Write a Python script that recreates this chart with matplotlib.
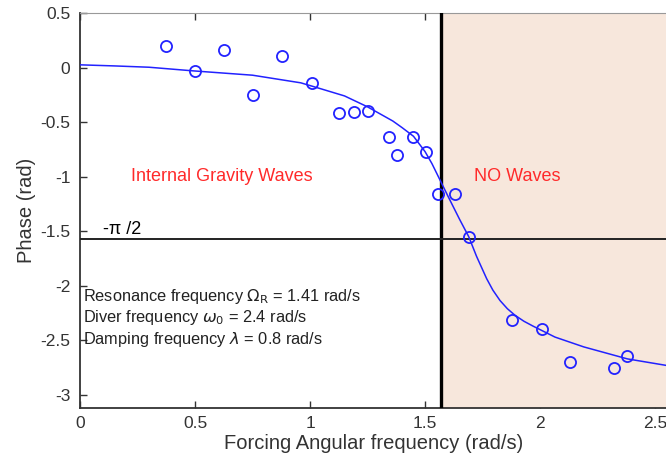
#! /usr/bin/env python3

import numpy as np
import matplotlib
matplotlib.use("Agg")
import matplotlib.pyplot as plt

plt.rcParams['font.family'] = ['Liberation Sans', 'DejaVu Sans']

# measured phase points
omega_pts = [0.374, 0.50, 0.626, 0.751, 0.88, 1.008, 1.126, 1.19, 1.254, 1.344, 1.38,
             1.446, 1.504, 1.557, 1.632, 1.69, 1.88, 2.01, 2.13, 2.32, 2.38, 2.58]
phase_pts = [0.20, -0.035, 0.165, -0.25, 0.104, -0.145, -0.42, -0.41, -0.40, -0.64, -0.80,
             -0.64, -0.77, -1.155, -1.16, -1.55, -2.31, -2.40, -2.70, -2.75, -2.64, -2.83]

# fitted curve
omega_fit = [0.0, 0.15, 0.30, 0.49, 0.75, 0.96, 1.04, 1.15, 1.25, 1.36, 1.40, 1.45, 1.50,
             1.53, 1.565, 1.60, 1.65, 1.69, 1.724, 1.768, 1.795, 1.826, 1.858, 1.891, 1.93,
             1.97, 2.065, 2.19, 2.38, 2.55]
phase_fit = [0.025, 0.015, 0.003, -0.03, -0.07, -0.14, -0.19, -0.26, -0.36, -0.49, -0.55,
             -0.63, -0.77, -0.88, -1.03, -1.18, -1.39, -1.55, -1.73, -1.935, -2.04, -2.135,
             -2.21, -2.27, -2.325, -2.37, -2.47, -2.56, -2.67, -2.73]

x_ticks = [0, 0.5, 1, 1.5, 2, 2.5]
x_ticklabels = ['0', '0.5', '1', '1.5', '2', '2.5']
y_ticks = [0.5, 0, -0.5, -1, -1.5, -2, -2.5, -3]
y_ticklabels = ['0.5', '0', '-0.5', '-1', '-1.5', '-2', '-2.5', '-3']

blue = '#2222ff'
shade = '#f7e7dc'

fig = plt.figure(figsize=(6.66, 4.59), dpi=100)
ax = fig.add_axes([80 / 666, 1 - 408 / 459, 587 / 666, 395 / 459])
ax.set_xlim(0, 2.552)
ax.set_ylim(-3.12, 0.5)

# no-wave region beyond pi/2
ax.axvspan(np.pi / 2, 3, color=shade, zorder=1.6, lw=0)
ax.axvline(np.pi / 2, color='black', lw=2.4, zorder=3)
ax.axhline(-np.pi / 2, color='#222222', lw=1.4, zorder=3)

ax.plot(omega_fit, phase_fit, color=blue, lw=1.1, zorder=4)
ax.plot(omega_pts, phase_pts, 'o', mfc='none', mec=blue, ms=8, mew=1.3, zorder=5)

ax.text(0.1, -1.56, '-\u03c0 /2', fontsize=13, color='black', va='bottom', zorder=6)
ax.text(0.617, -1.0, 'Internal Gravity Waves', fontsize=13, color='#ff2a2a',
        ha='center', va='center', zorder=6)
ax.text(1.90, -1.0, 'NO Waves', fontsize=13, color='#ff2a2a',
        ha='center', va='center', zorder=6)

info = [r'Resonance frequency $\Omega_{\rm R}$ = 1.41 rad/s',
        r'Diver frequency $\omega_0$ = 2.4 rad/s',
        r'Damping frequency $\lambda$ = 0.8 rad/s']
info_y = [-2.10, -2.29, -2.49]
for s, yy in zip(info, info_y):
    ax.text(0.015, yy, s, fontsize=11.8, color='#222222', va='center', zorder=6)

ax.set_xticks(x_ticks)
ax.set_xticklabels(x_ticklabels)
ax.set_yticks(y_ticks)
ax.set_yticklabels(y_ticklabels)
ax.tick_params(direction='in', length=5, width=1, colors='#333333', labelsize=12.5,
               top=True, right=False, pad=7)
ax.tick_params(axis='x', pad=6)

for side in ['left', 'bottom']:
    ax.spines[side].set_color('#333333')
    ax.spines[side].set_linewidth(1.3)
ax.spines['top'].set_color('#999999')
ax.spines['right'].set_visible(False)

ax.set_xlabel('Forcing Angular frequency (rad/s)', fontsize=14.5, color='#333333', labelpad=2)
ax.set_ylabel('Phase (rad)', fontsize=14.5, color='#333333', labelpad=3)

fig.savefig('out.png', dpi=100)
plt.close(fig)
